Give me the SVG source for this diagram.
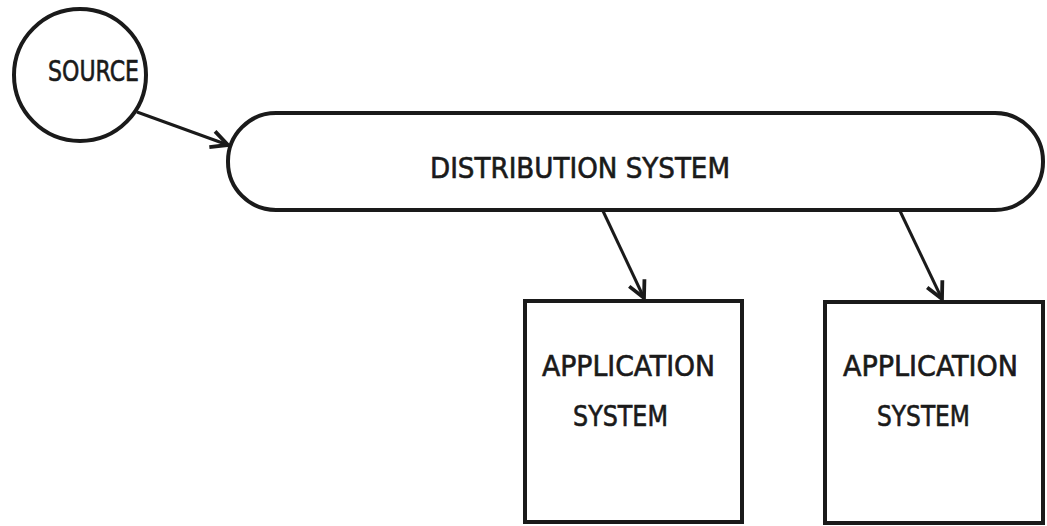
<svg xmlns="http://www.w3.org/2000/svg" width="1047" height="526" viewBox="0 0 1047 526">
<style>
.shape{fill:#ffffff;stroke:#1a1a1a;stroke-width:4}
.lbl{font-family:"DejaVu Sans Condensed","DejaVu Sans",sans-serif;font-size:29px;fill:#1a1a1a;stroke:#1a1a1a;stroke-width:0.6}
.conn{stroke:#1a1a1a;stroke-width:3;fill:none;marker-end:url(#arr)}
</style>
<defs>
<marker id="arr" viewBox="0 0 10 10" refX="9" refY="5" markerWidth="7" markerHeight="7" markerUnits="strokeWidth" orient="auto">
<path d="M1,1 L9,5 L1,9" fill="none" stroke="#1a1a1a" stroke-width="1.8"/>
</marker>
</defs>
<rect width="1047" height="526" fill="#ffffff"/>
<g id="source">
<circle class="shape" cx="80" cy="75" r="66"/>
<text class="lbl" x="48" y="81" textLength="91" lengthAdjust="spacingAndGlyphs">SOURCE</text>
</g>
<g id="distribution">
<rect class="shape" x="228" y="113" width="815" height="97" rx="48" ry="48"/>
<text class="lbl" x="430" y="178" textLength="300" lengthAdjust="spacingAndGlyphs">DISTRIBUTION SYSTEM</text>
</g>
<g id="app1">
<rect class="shape" x="525" y="301" width="217" height="221"/>
<text class="lbl" x="542" y="376" textLength="173" lengthAdjust="spacingAndGlyphs">APPLICATION</text>
<text class="lbl" x="573" y="426" textLength="95" lengthAdjust="spacingAndGlyphs">SYSTEM</text>
</g>
<g id="app2">
<rect class="shape" x="825" y="302" width="218" height="221"/>
<text class="lbl" x="843" y="376" textLength="175" lengthAdjust="spacingAndGlyphs">APPLICATION</text>
<text class="lbl" x="877" y="426" textLength="93" lengthAdjust="spacingAndGlyphs">SYSTEM</text>
</g>
<g id="connectors">
<line class="conn" x1="137" y1="112" x2="228" y2="145"/>
<line class="conn" x1="603" y1="211" x2="644" y2="298"/>
<line class="conn" x1="900" y1="211" x2="942" y2="299"/>
</g>
</svg>
